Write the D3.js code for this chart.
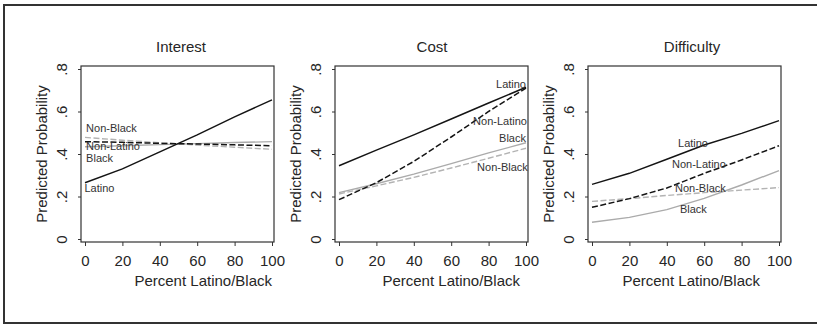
<!DOCTYPE html>
<meta charset="utf-8">
<style>

body {
  margin: 0;
  background: #fff;
}

text {
  font-family: "Liberation Sans", Arial, sans-serif;
  fill: #262626;
}

.tick line {
  stroke: #333;
}

.frame {
  fill: none;
  stroke: #333;
  stroke-width: 2px;
}

.plotbox {
  fill: none;
  stroke: #333;
  stroke-width: 1.2px;
}

.series {
  fill: none;
}

</style>
<svg width="817" height="326"></svg>
<script src="https://d3js.org/d3.v7.min.js"></script>
<script>

// x positions (percent Latino/Black) where each curve is read
var pctValues = [0, 20, 40, 60, 80, 100];

var panelTitles = ["Interest", "Cost", "Difficulty"];
var seriesNames = ["Latino", "Non-Latino", "Black", "Non-Black"];

// predicted probabilities, one array per panel and group
var interestLatino    = [0.265, 0.330, 0.410, 0.490, 0.575, 0.655];
var interestNonLatino = [0.458, 0.455, 0.450, 0.447, 0.443, 0.439];
var interestBlack     = [0.434, 0.439, 0.444, 0.449, 0.454, 0.458];
var interestNonBlack  = [0.478, 0.465, 0.453, 0.442, 0.432, 0.422];

var costLatino    = [0.345, 0.418, 0.490, 0.565, 0.640, 0.714];
var costNonLatino = [0.185, 0.265, 0.365, 0.480, 0.600, 0.710];
var costBlack     = [0.218, 0.260, 0.305, 0.355, 0.405, 0.453];
var costNonBlack  = [0.212, 0.250, 0.290, 0.334, 0.380, 0.427];

var difficultyLatino    = [0.257, 0.309, 0.375, 0.442, 0.497, 0.557];
var difficultyNonLatino = [0.149, 0.190, 0.240, 0.309, 0.372, 0.439];
var difficultyBlack     = [0.079, 0.102, 0.138, 0.191, 0.254, 0.322];
var difficultyNonBlack  = [0.177, 0.190, 0.205, 0.218, 0.230, 0.242];

var xTickValues = [0, 20, 40, 60, 80, 100];
var yTickValues = [0, 0.2, 0.4, 0.6, 0.8];
var yTickLabels = ["0", ".2", ".4", ".6", ".8"];

// where the group names sit, in data units (x, y) per panel
var interestLabelSpots   = [[-0.3, 0.221], [0.6, 0.419], [0.6, 0.362], [0.6, 0.505]];
var costLabelSpots       = [[100, 0.711], [100.5, 0.536], [100, 0.458], [101, 0.321]];
var difficultyLabelSpots = [[46, 0.434], [42.8, 0.334], [47, 0.124], [44.4, 0.223]];

var panelData = [
  [interestLatino, interestNonLatino, interestBlack, interestNonBlack],
  [costLatino, costNonLatino, costBlack, costNonBlack],
  [difficultyLatino, difficultyNonLatino, difficultyBlack, difficultyNonBlack]
];
var panelLabelSpots = [interestLabelSpots, costLabelSpots, difficultyLabelSpots];
var labelAnchor = ["start", "end", "start"];

// layout
var panelLeft = [81, 335, 588],
    boxWidth = 193,
    boxTop = 66,
    boxBottom = 242,
    titleX = [181, 432, 692],
    xTitleRight = [272, 520, 760];

var seriesStyle = [
  {stroke: "#141414", width: 1.5, dash: null},
  {stroke: "#141414", width: 1.5, dash: "6,2.5"},
  {stroke: "#ababab", width: 1.4, dash: null},
  {stroke: "#b3b3b3", width: 1.4, dash: "6,2.5"}
];

var svg = d3.select("svg");

svg.append("rect")
    .attr("class", "frame")
    .attr("x", 4)
    .attr("y", 5)
    .attr("width", 820)
    .attr("height", 318);

panelTitles.forEach(function(title, p) {
  var left = panelLeft[p];

  var x = d3.scaleLinear()
      .domain([0, 100])
      .range([left + 4, left + 191]);

  var y = d3.scaleLinear()
      .domain([0, 0.8])
      .range([239, 69]);

  var g = svg.append("g");

  g.append("text")
      .attr("x", titleX[p])
      .attr("y", 52)
      .attr("text-anchor", "middle")
      .style("font-size", "15px")
      .text(title);

  // y axis with rotated tick labels
  var yAxis = g.append("g")
      .attr("transform", "translate(" + left + ",0)")
      .call(d3.axisLeft(y)
          .tickValues(yTickValues)
          .tickFormat(function(d, i) { return yTickLabels[i]; })
          .tickSize(3));
  yAxis.select(".domain").remove();
  yAxis.selectAll("text")
      .attr("transform", "rotate(-90)")
      .attr("x", 0)
      .attr("y", -14)
      .attr("dy", 0)
      .attr("text-anchor", "middle")
      .style("font-size", "15px")
      .style("font-family", "'Liberation Sans', Arial, sans-serif")
      .attr("fill", "#262626");

  var xAxis = g.append("g")
      .attr("transform", "translate(0," + boxBottom + ")")
      .call(d3.axisBottom(x)
          .tickValues(xTickValues)
          .tickSize(4));
  xAxis.select(".domain").remove();
  xAxis.selectAll("text")
      .attr("y", 24)
      .attr("dy", 0)
      .style("font-size", "15px")
      .style("font-family", "'Liberation Sans', Arial, sans-serif")
      .attr("fill", "#262626");

  g.append("rect")
      .attr("class", "plotbox")
      .attr("x", left)
      .attr("y", boxTop)
      .attr("width", boxWidth)
      .attr("height", boxBottom - boxTop);

  g.append("text")
      .attr("transform", "translate(" + (left - 34) + "," + ((boxTop + boxBottom) / 2) + ") rotate(-90)")
      .attr("text-anchor", "middle")
      .style("font-size", "15px")
      .text("Predicted Probability");

  g.append("text")
      .attr("x", xTitleRight[p])
      .attr("y", 286)
      .attr("text-anchor", "end")
      .style("font-size", "15px")
      .text("Percent Latino/Black");

  var line = d3.line()
      .x(function(d, i) { return x(pctValues[i]); })
      .y(function(d) { return y(d); });

  // grey series first so the black ones sit on top
  [3, 2, 1, 0].forEach(function(s) {
    var st = seriesStyle[s];
    g.append("path")
        .datum(panelData[p][s])
        .attr("class", "series")
        .attr("d", line)
        .attr("stroke", st.stroke)
        .attr("stroke-width", st.width)
        .attr("stroke-dasharray", st.dash);
  });

  g.selectAll(".grouplabel")
      .data(panelLabelSpots[p])
    .enter().append("text")
      .attr("class", "grouplabel")
      .attr("x", function(d) { return x(d[0]); })
      .attr("y", function(d) { return y(d[1]); })
      .attr("text-anchor", labelAnchor[p])
      .style("font-size", "11px")
      .style("fill", "#333")
      .text(function(d, i) { return seriesNames[i]; });
});

</script>
